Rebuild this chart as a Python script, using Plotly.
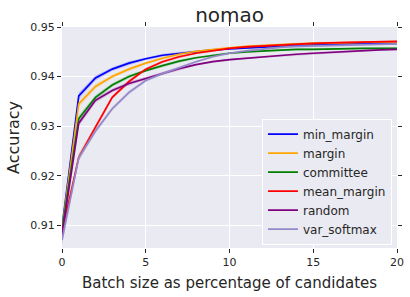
import plotly.graph_objects as go

x_pct = list(range(0, 21))

min_margin = [0.9095, 0.9361, 0.9397, 0.9415, 0.9427, 0.9436, 0.9443, 0.9447, 0.9451, 0.9454, 0.9456,
              0.9458, 0.9460, 0.9462, 0.9463, 0.9464, 0.9465, 0.9466, 0.9466, 0.9467, 0.9467]
margin = [0.9090, 0.9345, 0.9380, 0.9400, 0.9415, 0.9427, 0.9437, 0.9445, 0.9451, 0.9455, 0.9458,
          0.9461, 0.9463, 0.9465, 0.9466, 0.9467, 0.9468, 0.9469, 0.9469, 0.9470, 0.9470]
committee = [0.9090, 0.9315, 0.9358, 0.9383, 0.9400, 0.9412, 0.9422, 0.9431, 0.9438, 0.9443, 0.9447,
             0.9450, 0.9452, 0.9454, 0.9455, 0.9455, 0.9456, 0.9456, 0.9457, 0.9457, 0.9457]
mean_margin = [0.9085, 0.9237, 0.9298, 0.9358, 0.9390, 0.9415, 0.9430, 0.9440, 0.9447, 0.9452, 0.9457,
               0.9460, 0.9462, 0.9464, 0.9466, 0.9467, 0.9468, 0.9469, 0.9470, 0.9471, 0.9471]
random_sel = [0.9080, 0.9306, 0.9352, 0.9372, 0.9386, 0.9396, 0.9406, 0.9416, 0.9424, 0.9430, 0.9434,
              0.9437, 0.9440, 0.9443, 0.9445, 0.9447, 0.9449, 0.9451, 0.9452, 0.9454, 0.9455]
var_softmax = [0.9070, 0.9236, 0.9290, 0.9335, 0.9368, 0.9392, 0.9406, 0.9418, 0.9430, 0.9440, 0.9447,
               0.9452, 0.9456, 0.9459, 0.9461, 0.9462, 0.9463, 0.9464, 0.9465, 0.9465, 0.9466]

# half-width of the shaded confidence band at each batch size
ci_half = [0.0012, 0.0007, 0.0005, 0.0004, 0.0004, 0.0003, 0.0003, 0.0003, 0.0002, 0.0002, 0.0002,
           0.0002, 0.0002, 0.0002, 0.0002, 0.0002, 0.0002, 0.0002, 0.0002, 0.0002, 0.0002]

series = [
    ("min_margin", min_margin, "#0000FF", "rgba(0,0,255,0.18)"),
    ("margin", margin, "#FFA500", "rgba(255,165,0,0.18)"),
    ("committee", committee, "#008000", "rgba(0,128,0,0.18)"),
    ("mean_margin", mean_margin, "#FF0000", "rgba(255,0,0,0.18)"),
    ("random", random_sel, "#800080", "rgba(128,0,128,0.18)"),
    ("var_softmax", var_softmax, "#9488C8", "rgba(148,136,200,0.25)"),
]

fig = go.Figure()
for name, vals, col, fillcol in series:
    upper = [v + h for v, h in zip(vals, ci_half)]
    lower = [v - h for v, h in zip(vals, ci_half)]
    fig.add_trace(go.Scatter(x=x_pct + x_pct[::-1], y=upper + lower[::-1], fill="toself",
                             fillcolor=fillcol, line=dict(width=0), mode="lines",
                             showlegend=False, hoverinfo="skip"))
    fig.add_trace(go.Scatter(x=x_pct, y=vals, mode="lines", name=name,
                             line=dict(color=col, width=1.7)))

tick_font = dict(family="DejaVu Sans", size=11, color="#262626")
fig.update_layout(
    width=410, height=297,
    margin=dict(l=62, r=13, t=27, b=49),
    paper_bgcolor="white", plot_bgcolor="#EAEAF2",
    font=dict(family="DejaVu Sans", color="#262626"),
    title=dict(text="nomao", x=0.56, xanchor="center", y=0.95, yanchor="middle",
               font=dict(size=20, color="#262626")),
    legend=dict(x=0.985, xanchor="right", y=0.015, yanchor="bottom",
                bgcolor="#EAEAF2", bordercolor="white", borderwidth=1,
                font=dict(size=12, color="#262626"), tracegroupgap=0),
    showlegend=True,
)
fig.update_xaxes(range=[0, 20], tickvals=[0, 5, 10, 15, 20], showgrid=True, gridcolor="white",
                 gridwidth=1, zeroline=False, ticks="outside", ticklen=4, tickcolor="#262626",
                 mirror="ticks", tickfont=tick_font, automargin=False,
                 title=dict(text="Batch size as percentage of candidates",
                            font=dict(size=15, color="#262626"), standoff=9))
fig.update_yaxes(range=[0.9054, 0.95], tickvals=[0.91, 0.92, 0.93, 0.94, 0.95], tickformat=".2f",
                 showgrid=True, gridcolor="white", gridwidth=1, zeroline=False, ticks="outside",
                 ticklen=4, tickcolor="#262626", mirror="ticks", tickfont=tick_font, automargin=False,
                 title=dict(text="Accuracy", font=dict(size=16, color="#262626"), standoff=6))

fig.write_html("out.html", config={"displayModeBar": False},
               post_script="document.body.style.margin='0px';")
